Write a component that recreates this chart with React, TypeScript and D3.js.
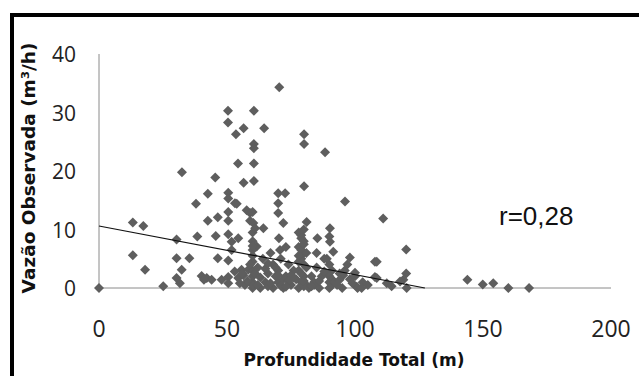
import React from "react";
import * as d3 from "d3";

const xVals: number[] = [
  70.4, 50.4, 60.5, 50.4, 53.5, 56.5, 64.5, 60.5, 60.5, 80.1, 80.1, 88.3, 32.4, 54.3, 60.5, 45.4, 56.5, 60.5, 80.1,
  42.5, 50.5, 50.5, 37.9, 53.8, 50.5, 57.7, 42.5, 46.4, 50.5, 13.2, 17.3, 30.3, 38.4, 45.6, 50.5, 51.8, 54.4, 51.8,
  13.2, 30.3, 35.3, 46.4, 50.5, 18.0, 32.3, 30.3, 0, 25.1, 40.1, 42.1, 44.0, 47.9, 50.5, 54.4, 56.4, 41.0, 31.6,
  50.5, 58.3, 55.7,
  70, 72.7, 70, 96.1, 111, 70, 72, 81.1, 53.1, 59, 60.3, 64.2, 90.2, 85.3, 90.2, 98, 107.8, 70.3, 61.6, 70.7, 91.5,
  100.7, 107.8, 112.4,
  60, 60, 60, 60, 60, 60, 60, 60, 60, 61, 59, 60, 60, 60, 61, 59,
  78, 79, 80, 78, 80, 79, 80, 78, 80, 79, 80, 78, 77, 81, 81, 79, 80, 78, 79, 80, 78, 79, 80, 81,
  90, 90, 90, 91, 90, 89, 91, 89, 90, 91,
  63, 65, 66, 68, 68, 70, 70, 71, 72, 73, 74, 75, 76, 67, 64, 62, 73, 66, 69, 72, 75, 65, 71,
  63, 67, 69, 74, 76, 62, 66, 70, 73,
  82, 83, 84, 85, 86, 87, 88, 85, 84, 83, 86, 88,
  92, 94, 95, 96, 98, 100, 101, 103, 105, 97, 95.4, 94, 100, 102.6, 93, 99,
  56, 57, 58, 55, 53,
  120, 120, 118.9, 114.3, 120.2, 117.6, 108.5, 108.5,
  143.9, 149.9, 154, 159.9, 168,
];

const yVals: number[] = [
  34.3, 30.3, 30.3, 28.3, 26.3, 27.3, 27.3, 24.6, 23.9, 26.3, 24.6, 23.2, 19.8, 21.3, 21.3, 18.9, 18.0, 18.3, 17.4,
  16.1, 16.3, 15.3, 14.4, 14.4, 13.0, 13.3, 11.5, 12.1, 11.5, 11.2, 10.6, 8.3, 8.8, 8.9, 9.2, 7.9, 8.5, 6.5,
  5.6, 5.1, 5.1, 5.1, 4.7, 3.1, 3.1, 1.7, 0, 0.3, 2.05, 1.7, 1.4, 1.4, 1.9, 1.7, 2.2, 1.4, 0.8,
  0.8, 3.1, 3.1,
  16.2, 16.2, 14.5, 14.8, 11.9, 12.8, 11.1, 11.3, 14.5, 12.8, 11.1, 10.2, 10.2, 8.5, 7.9, 5.2, 4.5, 8.5, 7.1, 6.5, 6.2,
  0.2, 1.9, 0.8,
  0, 1, 2, 3, 4.5, 5.5, 6.5, 8, 9.5, 10.2, 11.5, 13, 7.2, 0.5, 2.5, 4,
  0, 1, 2, 3, 4, 5, 6, 7, 8, 9, 10, 9.5, 1.5, 3.5, 0.5, 6.5, 0.3, 4.5, 8.5, 7.5, 5.5, 2.5, 1.2, 6,
  0, 1, 2, 3, 4, 5, 0.5, 2.5, 8.8, 1.5,
  0, 1, 2.5, 0, 4, 1, 3, 5, 0, 2, 4, 0.5, 3, 6, 5, 3.5, 7, 0.3, 2, 1.5, 2.2, 3.3, 0.4,
  1.8, 0.8, 3.5, 1.2, 1.8, 0.5, 4.2, 2.2, 0.2,
  0, 2, 1, 3.5, 0, 2, 5, 6, 0.5, 0.3, 1.2, 2.8,
  1, 2.5, 0, 3, 1.5, 2, 0, 1, 0.5, 4, 2.2, 1.4, 2.6, 0, 0.5, 0.8,
  2.5, 0.5, 1.2, 0.8, 2.8,
  6.6, 2.5, 1.4, 0.3, 0, 1.1, 4.5, 1.7,
  1.4, 0.6, 0.8, 0, 0,
];

const xTicks: number[] = [0, 50, 100, 150, 200];
const yTicks: number[] = [0, 10, 20, 30, 40];
const trendIntercept = 10.6;
const trendXEnd = 127.3;

export default function App() {
  const W = 639;
  const H = 376;
  const x = d3.scaleLinear().domain([0, 200]).range([99, 611]);
  const y = d3.scaleLinear().domain([0, 40]).range([288, 54]);
  const slope = -trendIntercept / trendXEnd;
  const line = d3
    .line<number>()
    .x((d) => x(d))
    .y((d) => y(trendIntercept + slope * d));
  const diamond = "M0,-5L5,0L0,5L-5,0Z";
  const pts = xVals.map((v, i) => [v, yVals[i]] as [number, number]);

  return (
    <svg
      width={W}
      height={H}
      style={{ position: "absolute", left: 0, top: 0, background: "#fff" }}
    >
      <rect x={0} y={0} width={W} height={H} fill="#fff" />
      <rect x={12} y={15} width={760} height={500} fill="none" stroke="#000" strokeWidth={4} />
      <line x1={x(0)} x2={x(0)} y1={y(40)} y2={y(0)} stroke="#8a8a8a" strokeWidth={1} />
      <line x1={x(0)} x2={x(200)} y1={y(0)} y2={y(0)} stroke="#8a8a8a" strokeWidth={1} />
      {yTicks.map((t) => (
        <text
          key={"y" + t}
          x={76}
          y={y(t)}
          textAnchor="end"
          dominantBaseline="central"
          fontFamily="Open Sans"
          fontSize={21}
          fill="#222"
        >
          {t}
        </text>
      ))}
      {xTicks.map((t) => (
        <text
          key={"x" + t}
          x={x(t)}
          y={337}
          textAnchor="middle"
          fontFamily="Open Sans"
          fontSize={23}
          fill="#222"
        >
          {t}
        </text>
      ))}
      {pts.map((p, i) => (
        <path key={i} d={diamond} transform={`translate(${x(p[0])},${y(p[1])})`} fill="#5e5e5e" />
      ))}
      <path d={line([0, trendXEnd]) || ""} stroke="#111" strokeWidth={1.2} fill="none" />
      <text x={499} y={225} fontFamily="Liberation Sans" fontSize={26} fill="#111">
        r=0,28
      </text>
      <text
        x={354}
        y={366}
        textAnchor="middle"
        fontFamily="DejaVu Sans"
        fontWeight="bold"
        fontSize={17}
        fill="#111"
      >
        Profundidade Total (m)
      </text>
      <text
        transform="translate(28,168) rotate(-90)"
        textAnchor="middle"
        dominantBaseline="central"
        fontFamily="DejaVu Sans"
        fontWeight="bold"
        fontSize={18.5}
        fill="#111"
      >
        Vazão Observada (m³/h)
      </text>
    </svg>
  );
}
